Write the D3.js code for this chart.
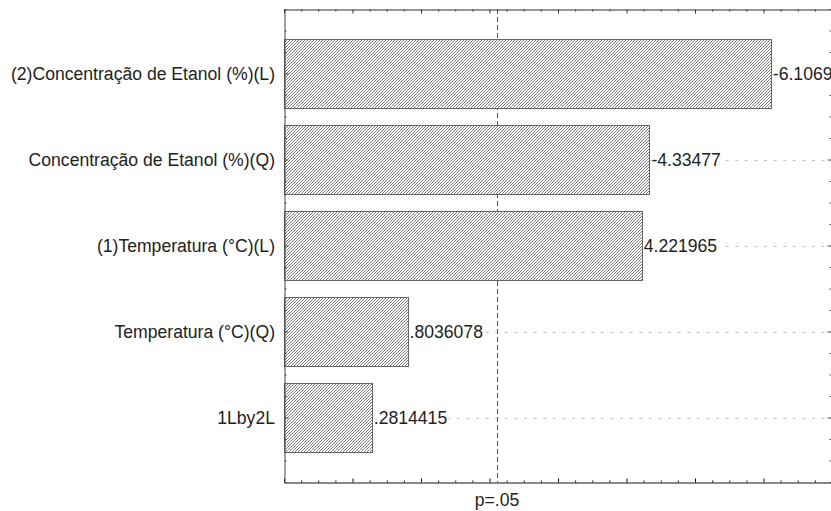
<!DOCTYPE html>
<html>
<head>
<meta charset="utf-8">
<script src="https://cdn.jsdelivr.net/npm/d3@7"></script>
<style>
  body { margin: 0; background: #fff; }
  svg { display: block; }
  text { font-family: Arial, "Liberation Sans", sans-serif; }
</style>
</head>
<body>
<svg id="chart" width="831" height="511"></svg>
<script>
// Pareto chart of standardized effects
const effectNames = [
  "(2)Concentração de Etanol (%)(L)",
  "Concentração de Etanol (%)(Q)",
  "(1)Temperatura (°C)(L)",
  "Temperatura (°C)(Q)",
  "1Lby2L"
];
const effectEstimates = [-6.1069, -4.33477, 4.221965, 0.8036078, 0.2814415];
const significanceLabel = "p=.05";
const significanceValue = 2.11;
const xDomain = [-1, 7];

const svg = d3.select("#chart");
const margin = { left: 284, right: 832, top: 9, bottom: 482 };
const fontSize = 17.6;

const x = d3.scaleLinear().domain(xDomain).range([margin.left, margin.right]);
// categories sit on integer positions 1..n
const n = effectNames.length;
const y = d3.scaleLinear().domain([0.25, n + 0.75]).range([margin.top, margin.bottom]);

// hatch fill for bars
const defs = svg.append("defs");
const pat = defs.append("pattern")
  .attr("id", "hatch")
  .attr("patternUnits", "userSpaceOnUse")
  .attr("width", 3).attr("height", 3);
pat.append("rect").attr("width", 3).attr("height", 3).attr("fill", "#fff");
pat.append("path")
  .attr("d", "M-1,1 l2,-2 M0,3 l3,-3 M2,4 l2,-2")
  .attr("stroke", "#6a6a6a").attr("stroke-width", 0.9);

const rows = effectNames.map((name, i) => ({
  name, value: effectEstimates[i], pos: i + 1
}));

// dotted horizontal grid at each effect
svg.append("g").selectAll("line").data(rows).join("line")
  .attr("x1", margin.left).attr("x2", margin.right)
  .attr("y1", d => Math.round(y(d.pos)) + 0.5)
  .attr("y2", d => Math.round(y(d.pos)) + 0.5)
  .attr("stroke", "#c4c4c4")
  .attr("stroke-dasharray", "3,6.6");

// significance reference line
const px = Math.round(x(significanceValue)) + 0.5;
svg.append("line")
  .attr("x1", px).attr("x2", px)
  .attr("y1", margin.top).attr("y2", margin.bottom)
  .attr("stroke", "#555")
  .attr("stroke-dasharray", "5,3");

// bars (absolute value of the effect)
const barHalf = 0.4;
svg.append("g").selectAll("rect").data(rows).join("rect")
  .attr("x", x(xDomain[0]) + 0.5)
  .attr("y", d => Math.round(y(d.pos - barHalf)) + 0.5)
  .attr("width", d => Math.round(x(Math.abs(d.value)) - x(xDomain[0])))
  .attr("height", d => Math.round(y(d.pos + barHalf) - y(d.pos - barHalf)))
  .attr("fill", "url(#hatch)")
  .attr("stroke", "#666")
  .attr("stroke-width", 1);

// value labels with Statistica-style number format
const fmtVal = v => String(v).replace(/^(-?)0\./, "$1.");
const valG = svg.append("g").selectAll("g").data(rows).join("g")
  .attr("transform", d => `translate(${x(Math.abs(d.value)) + 2},${y(d.pos)})`);
valG.append("text")
  .attr("dy", "0.35em")
  .attr("font-size", fontSize)
  .attr("fill", "#222")
  .text(d => fmtVal(d.value))
  .each(function () {
    const bb = this.getBBox();
    d3.select(this.parentNode).insert("rect", "text")
      .attr("x", bb.x).attr("y", bb.y)
      .attr("width", bb.width + 1).attr("height", bb.height)
      .attr("fill", "#fff");
  });

// category labels
svg.append("g").selectAll("text").data(rows).join("text")
  .attr("x", margin.left - 9)
  .attr("y", d => y(d.pos))
  .attr("dy", "0.35em")
  .attr("text-anchor", "end")
  .attr("font-size", fontSize)
  .attr("fill", "#222")
  .text(d => d.name);

// axes: frame with inward ticks, no numeric labels
const xMajor = d3.range(xDomain[0], xDomain[1] + 0.001, 1);
const xMinor = d3.range(xDomain[0], xDomain[1] + 0.001, 0.25).filter(v => Math.abs(v - Math.round(v)) > 1e-6);
const yMajor = d3.range(1, n + 1);
const yMinor = d3.range(0.25, n + 0.76, 0.25).filter(v => Math.abs(v - Math.round(v)) > 1e-6);

function styleAxis(g, color) {
  g.selectAll("path.domain").attr("stroke", color);
  g.selectAll(".tick line").attr("stroke", color);
  g.selectAll(".tick text").remove();
}

// bottom
svg.append("g").attr("transform", `translate(0,${margin.bottom + 0.5})`)
  .call(d3.axisBottom(x).tickValues(xMajor).tickSize(-4).tickSizeOuter(0).tickFormat(""))
  .call(g => styleAxis(g, "#111"));
svg.append("g").attr("transform", `translate(0,${margin.bottom + 0.5})`)
  .call(d3.axisBottom(x).tickValues(xMinor).tickSize(-2).tickSizeOuter(0).tickFormat(""))
  .call(g => { styleAxis(g, "#111"); g.select("path.domain").remove(); });
// top
svg.append("g").attr("transform", `translate(0,${margin.top + 0.5})`)
  .call(d3.axisTop(x).tickValues(xMajor).tickSize(-4).tickSizeOuter(0).tickFormat(""))
  .call(g => styleAxis(g, "#333"));
svg.append("g").attr("transform", `translate(0,${margin.top + 0.5})`)
  .call(d3.axisTop(x).tickValues(xMinor).tickSize(-2).tickSizeOuter(0).tickFormat(""))
  .call(g => { styleAxis(g, "#333"); g.select("path.domain").remove(); });
// left
svg.append("g").attr("transform", `translate(${margin.left + 0.5},0)`)
  .call(d3.axisLeft(y).tickValues(yMajor).tickSize(-4).tickSizeOuter(0).tickFormat(""))
  .call(g => styleAxis(g, "#444"));
svg.append("g").attr("transform", `translate(${margin.left + 0.5},0)`)
  .call(d3.axisLeft(y).tickValues(yMinor).tickSize(-2).tickSizeOuter(0).tickFormat(""))
  .call(g => { styleAxis(g, "#444"); g.select("path.domain").remove(); });
// right
svg.append("g").attr("transform", `translate(${margin.right - 0.5},0)`)
  .call(d3.axisRight(y).tickValues(yMajor).tickSize(-4).tickSizeOuter(0).tickFormat(""))
  .call(g => styleAxis(g, "#444"));
svg.append("g").attr("transform", `translate(${margin.right - 0.5},0)`)
  .call(d3.axisRight(y).tickValues(yMinor).tickSize(-2).tickSizeOuter(0).tickFormat(""))
  .call(g => { styleAxis(g, "#444"); g.select("path.domain").remove(); });

// significance label under the axis
svg.append("text")
  .attr("x", x(significanceValue))
  .attr("y", 500)
  .attr("dy", "0.35em")
  .attr("text-anchor", "middle")
  .attr("font-size", fontSize)
  .attr("fill", "#222")
  .text(significanceLabel);
</script>
</body>
</html>
